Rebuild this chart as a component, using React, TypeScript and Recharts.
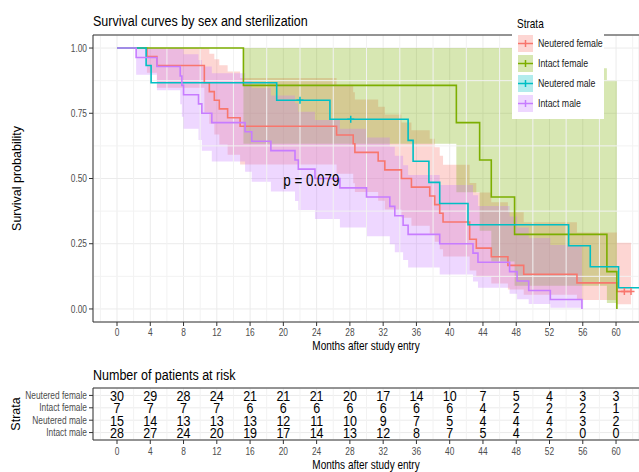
import React from 'react';
import {
  Area,
  CartesianGrid,
  ComposedChart,
  Line,
  ReferenceDot,
  ReferenceLine,
  Scatter,
  XAxis,
  YAxis,
} from 'recharts';

const FONT = "'Liberation Sans', Arial, sans-serif";
const SX = 0.835; // the reference text is squeezed horizontally

const RED = '#F8766D';
const GREEN = '#7CAE00';
const CYAN = '#00BFC4';
const PURPLE = '#C77CFF';

const strata = ['Neutered female', 'Intact female', 'Neutered male', 'Intact male'];
const colors = [RED, GREEN, CYAN, PURPLE];

// Neutered female
const nfTime = [0, 3.6, 4.8, 10.5, 11.1, 11.7, 12.3, 13.3, 14.8, 26.4, 28.4, 28.6, 31.4, 32.2, 34.2, 35.4, 37.6, 38.2, 38.8, 39.2, 42.4, 43.2, 45.0, 47.0, 48.9, 55.3, 60.1, 61.8];
const nfSurv = [1, 0.967, 0.933, 0.867, 0.833, 0.8, 0.767, 0.733, 0.7, 0.667, 0.633, 0.6, 0.567, 0.533, 0.5, 0.467, 0.433, 0.4, 0.367, 0.333, 0.267, 0.233, 0.2, 0.167, 0.133, 0.1, 0.067, 0.067];
const nfLower = [1, 0.905, 0.848, 0.753, 0.71, 0.669, 0.63, 0.591, 0.554, 0.518, 0.482, 0.448, 0.415, 0.381, 0.35, 0.319, 0.288, 0.258, 0.229, 0.201, 0.147, 0.122, 0.098, 0.075, 0.054, 0.034, 0.018, 0.018];
const nfUpper = [1, 1, 1, 0.998, 0.978, 0.957, 0.934, 0.91, 0.885, 0.859, 0.831, 0.803, 0.775, 0.745, 0.715, 0.685, 0.652, 0.62, 0.587, 0.553, 0.483, 0.446, 0.409, 0.371, 0.332, 0.293, 0.254, 0.254];
const nfCensorTime = [61.0, 61.8];
const nfCensorSurv = [0.067, 0.067];

// Intact female
const ifTime = [0, 15.2, 40.8, 43.6, 45.0, 47.8, 58.9, 60.1];
const ifSurv = [1, 0.857, 0.714, 0.571, 0.429, 0.286, 0.143, 0];
const ifLower = [1, 0.633, 0.447, 0.3, 0.182, 0.089, 0.023, null];
const ifUpper = [1, 1, 1, 1, 1, 0.923, 0.878, null];

// Neutered male (no band visible in the reference)
const nmTime = [0, 3.5, 4.1, 19.2, 25.6, 35.0, 35.6, 37.5, 38.8, 42.2, 54.3, 56.9, 60.3, 63];
const nmSurv = [1, 0.933, 0.867, 0.8, 0.727, 0.646, 0.566, 0.485, 0.404, 0.323, 0.242, 0.162, 0.081, 0.081];
const nmCensorTime = [22.0, 28.1];
const nmCensorSurv = [0.8, 0.727];

// Intact male
const imTime = [0, 2.3, 4.8, 7.6, 7.8, 8.0, 9.8, 10.2, 11.4, 15.4, 16.2, 18.5, 21.4, 21.8, 23.8, 26.8, 30.0, 32.8, 33.4, 34.4, 35.0, 38.8, 42.8, 43.4, 47.2, 48.1, 49.5, 52.1, 55.9];
const imSurv = [1, 0.964, 0.929, 0.893, 0.857, 0.821, 0.786, 0.75, 0.714, 0.679, 0.643, 0.607, 0.571, 0.536, 0.5, 0.464, 0.429, 0.393, 0.357, 0.321, 0.286, 0.25, 0.214, 0.179, 0.143, 0.107, 0.071, 0.036, 0];
const imLower = [1, 0.898, 0.838, 0.785, 0.737, 0.691, 0.648, 0.606, 0.565, 0.526, 0.488, 0.45, 0.414, 0.379, 0.345, 0.312, 0.279, 0.248, 0.217, 0.188, 0.159, 0.132, 0.105, 0.081, 0.058, 0.037, 0.019, 0.005, null];
const imUpper = [1, 1, 1, 1, 0.997, 0.976, 0.954, 0.929, 0.903, 0.876, 0.847, 0.818, 0.788, 0.756, 0.724, 0.691, 0.657, 0.623, 0.587, 0.551, 0.513, 0.475, 0.436, 0.395, 0.354, 0.312, 0.272, 0.245, null];

// numbers at risk
const riskTimes = [0, 4, 8, 12, 16, 20, 24, 28, 32, 36, 40, 44, 48, 52, 56, 60];
const nfRisk = [30, 29, 28, 24, 21, 21, 21, 20, 17, 14, 10, 7, 5, 4, 3, 3];
const ifRisk = [7, 7, 7, 7, 6, 6, 6, 6, 6, 6, 6, 4, 2, 2, 2, 1];
const nmRisk = [15, 14, 13, 13, 13, 12, 11, 10, 9, 7, 5, 4, 4, 4, 3, 2];
const imRisk = [28, 27, 24, 20, 19, 17, 14, 13, 12, 8, 7, 5, 4, 2, 0, 0];

const xTicks = [0, 4, 8, 12, 16, 20, 24, 28, 32, 36, 40, 44, 48, 52, 56, 60];
const xMinor = [-2, 2, 6, 10, 14, 18, 22, 26, 30, 34, 38, 42, 46, 50, 54, 58, 62];
const yTicks = [0, 0.25, 0.5, 0.75, 1];
const yMinor = [0.125, 0.375, 0.625, 0.875];
const X_DOMAIN: [number, number] = [-2.886, 62.76];

const curve = (time: number[], surv: number[]) => time.map((t, i) => ({ t, s: surv[i] }));

// step ribbon: keep the defined CI steps, then carry the last one to the next time
const ribbon = (time: number[], lower: (number | null)[], upper: (number | null)[]) => {
  const out: { t: number; band: [number, number] }[] = [];
  let last: [number, number] | null = null;
  for (let i = 0; i < time.length; i++) {
    if (lower[i] == null || upper[i] == null) {
      if (last) out.push({ t: time[i], band: last });
      break;
    }
    last = [lower[i] as number, upper[i] as number];
    out.push({ t: time[i], band: last });
  }
  return out;
};

const lines = [
  { data: curve(nfTime, nfSurv), color: RED },
  { data: curve(ifTime, ifSurv), color: GREEN },
  { data: curve(nmTime, nmSurv), color: CYAN },
  { data: curve(imTime, imSurv), color: PURPLE },
];

const bands = [
  { data: ribbon(nfTime, nfLower, nfUpper), color: RED },
  { data: ribbon(ifTime, ifLower, ifUpper), color: GREEN },
  { data: ribbon(imTime, imLower, imUpper), color: PURPLE },
];

const censors = [
  { data: curve(nfCensorTime, nfCensorSurv), color: RED },
  { data: curve(nmCensorTime, nmCensorSurv), color: CYAN },
];

const riskRows = [nfRisk, ifRisk, nmRisk, imRisk].map((r, k) => ({
  data: riskTimes.map((t, i) => ({ t, row: 4 - k, n: r[i] })),
}));

// squeezed text, anchored at (x, y)
function SText(props: {
  x: number;
  y: number;
  size: number;
  anchor?: 'start' | 'middle' | 'end';
  fill?: string;
  dy?: string;
  rotate?: boolean;
  children: React.ReactNode;
}) {
  const { x, y, size, anchor = 'start', fill = '#000', dy, rotate, children } = props;
  const transform = rotate
    ? `translate(${x},${y}) rotate(-90)`
    : `translate(${x},${y}) scale(${SX},1)`;
  return (
    <text transform={transform} textAnchor={anchor} fontSize={size} fontFamily={FONT} fill={fill} dy={dy}>
      {children}
    </text>
  );
}

const XTick = (props: any) => (
  <SText x={props.x} y={props.y} size={10} anchor="middle" fill="#4D4D4D" dy="0.71em">
    {props.payload.value}
  </SText>
);

const YTick = (props: any) => (
  <SText x={props.x} y={props.y} size={10} anchor="end" fill="#4D4D4D" dy="0.355em">
    {Number(props.payload.value).toFixed(2)}
  </SText>
);

const RowTick = (props: any) => (
  <SText x={props.x} y={props.y} size={10} anchor="end" fill="#4D4D4D" dy="0.355em">
    {strata[4 - props.payload.value]}
  </SText>
);

const plusShape = (color: string) => (props: any) => {
  const { cx, cy } = props;
  if (cx == null || cy == null) return <g />;
  return (
    <g stroke={color} strokeWidth={1.5}>
      <line x1={cx - 3.5} x2={cx + 3.5} y1={cy} y2={cy} />
      <line x1={cx} x2={cx} y1={cy - 3.5} y2={cy + 3.5} />
    </g>
  );
};

const RiskText = (props: any) => {
  const { cx, cy, payload } = props;
  return (
    <SText x={cx} y={cy} size={15} anchor="middle" dy="0.36em">
      {payload.n}
    </SText>
  );
};

const PLabel = (props: any) => {
  const vb = props.viewBox || {};
  return (
    <SText x={vb.x} y={vb.y} size={16} dy="0.36em">
      p = 0.079
    </SText>
  );
};

function LegendBox() {
  return (
    <div style={{ position: 'absolute', left: 512, top: 33, width: 92, height: 86, background: '#fff' }}>
      {strata.map((name, i) => (
        <svg key={name} width={92} height={17} style={{ position: 'absolute', left: 0, top: 2 + i * 20 }}>
          <rect x={6} y={0} width={15} height={17} fill={colors[i]} fillOpacity={0.3} />
          <line x1={6} x2={21} y1={8.5} y2={8.5} stroke={colors[i]} strokeWidth={1.5} />
          <line x1={13.5} x2={13.5} y1={5} y2={12} stroke={colors[i]} strokeWidth={1.5} />
          <SText x={26} y={8.5} size={10.5} fill="#1a1a1a" dy="0.355em">
            {name}
          </SText>
        </svg>
      ))}
    </div>
  );
}

export default function App() {
  return (
    <div style={{ position: 'absolute', left: 0, top: 0, width: 639, height: 472, background: '#fff', overflow: 'hidden' }}>
      <div style={{ position: 'absolute', left: 0, top: 0 }}>
        <ComposedChart width={639} height={355} margin={{ top: 35, right: 0, bottom: 0, left: 0 }}>
          <CartesianGrid stroke="#EBEBEB" />
          {xMinor.map((v) => (
            <ReferenceLine key={'mx' + v} x={v} stroke="#F2F2F2" ifOverflow="hidden" />
          ))}
          {yMinor.map((v) => (
            <ReferenceLine key={'my' + v} y={v} stroke="#F2F2F2" ifOverflow="hidden" />
          ))}
          <ReferenceLine y={1.05} stroke="#333" ifOverflow="extendDomain" />
          <XAxis
            type="number"
            dataKey="t"
            domain={X_DOMAIN}
            ticks={xTicks}
            interval={0}
            allowDataOverflow
            height={33}
            tickSize={4}
            tickMargin={3}
            stroke="#333"
            tick={(p: any) => <XTick {...p} />}
          />
          <YAxis
            type="number"
            domain={[-0.05, 1.05]}
            ticks={yTicks}
            interval={0}
            allowDataOverflow
            width={93}
            tickSize={4}
            tickMargin={2}
            stroke="#333"
            tick={(p: any) => <YTick {...p} />}
          />
          {lines.map((s, i) => (
            <Line
              key={'l' + i}
              data={s.data}
              dataKey="s"
              type="stepAfter"
              stroke={s.color}
              strokeWidth={1.6}
              dot={false}
              activeDot={false}
              isAnimationActive={false}
            />
          ))}
          {bands.map((s, i) => (
            <Area
              key={'a' + i}
              data={s.data}
              dataKey="band"
              type="stepAfter"
              stroke="none"
              fill={s.color}
              fillOpacity={0.3}
              dot={false}
              activeDot={false}
              isAnimationActive={false}
            />
          ))}
          {censors.map((c, i) => (
            <Scatter key={'c' + i} data={c.data} dataKey="s" shape={plusShape(c.color)} isAnimationActive={false} />
          ))}
          <ReferenceDot x={20} y={0.495} r={0} fill="none" stroke="none" label={PLabel} />
        </ComposedChart>
      </div>

      <div style={{ position: 'absolute', left: 0, top: 355 }}>
        <ComposedChart width={639} height={117} margin={{ top: 33, right: 0, bottom: 0, left: 0 }}>
          <CartesianGrid stroke="#EBEBEB" />
          {xMinor.map((v) => (
            <ReferenceLine key={'tx' + v} x={v} stroke="#F2F2F2" ifOverflow="hidden" />
          ))}
          <ReferenceLine y={4.6} stroke="#333" ifOverflow="extendDomain" />
          <XAxis
            type="number"
            dataKey="t"
            domain={X_DOMAIN}
            ticks={xTicks}
            interval={0}
            allowDataOverflow
            height={32}
            tickSize={4}
            tickMargin={4}
            stroke="#333"
            tick={(p: any) => <XTick {...p} />}
          />
          <YAxis
            type="number"
            domain={[0.4, 4.6]}
            ticks={[1, 2, 3, 4]}
            interval={0}
            allowDataOverflow
            width={93}
            tickSize={4}
            tickMargin={2}
            stroke="#333"
            tick={(p: any) => <RowTick {...p} />}
          />
          {riskRows.map((r, i) => (
            <Scatter key={'r' + i} data={r.data} dataKey="row" shape={RiskText} isAnimationActive={false} />
          ))}
        </ComposedChart>
      </div>

      <LegendBox />

      <svg width={639} height={472} style={{ position: 'absolute', left: 0, top: 0, pointerEvents: 'none' }}>
        <SText x={93} y={26} size={15}>
          Survival curves by sex and sterilization
        </SText>
        <SText x={517} y={27.5} size={12}>
          Strata
        </SText>
        <SText x={20.5} y={178.5} size={12.5} anchor="middle" rotate>
          Survival probability
        </SText>
        <SText x={366} y={350} size={12} anchor="middle">
          Months after study entry
        </SText>
        <SText x={93} y={379.5} size={15}>
          Number of patients at risk
        </SText>
        <SText x={20} y={414} size={12.5} anchor="middle" rotate>
          Strata
        </SText>
        <SText x={366} y={469} size={12} anchor="middle">
          Months after study entry
        </SText>
      </svg>
    </div>
  );
}
